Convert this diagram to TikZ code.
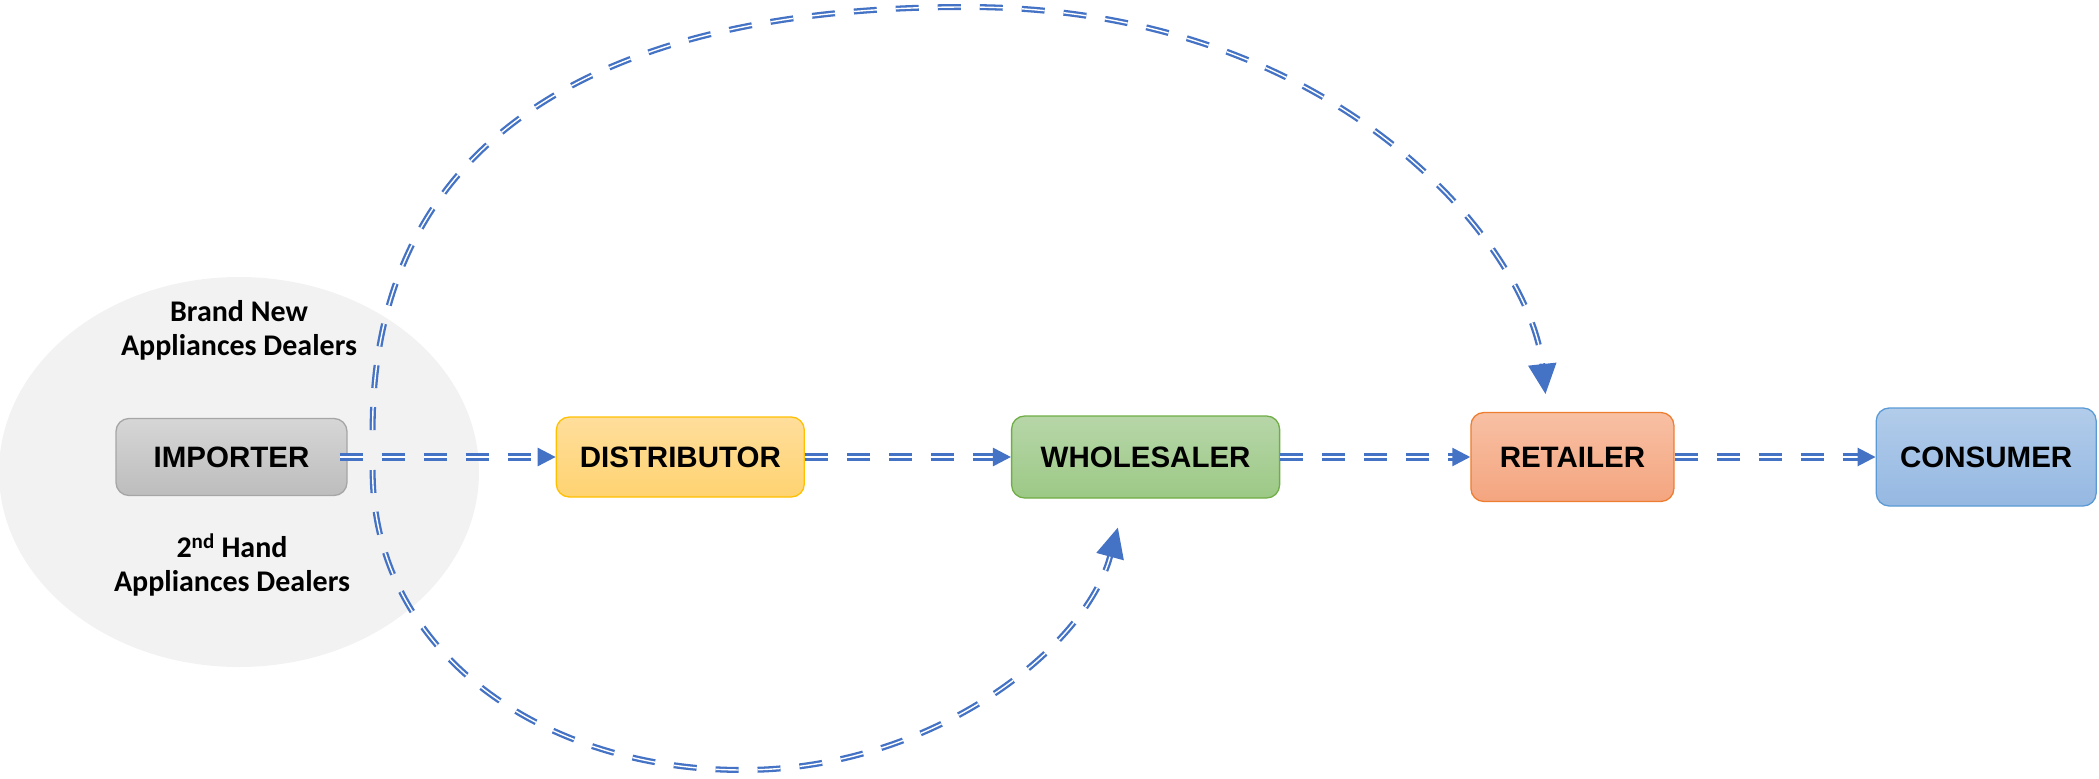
\documentclass[tikz,border=0pt]{standalone}
\usepackage{fontspec}
\newfontfamily\flowfont{Liberation Sans}
\newfontfamily\dealerfont{Carlito}
\usetikzlibrary{arrows.meta,positioning,shapes.geometric}

\definecolor{linkblue}{HTML}{4472C4}
\definecolor{areagray}{HTML}{F2F2F2}

\begin{document}
\begin{tikzpicture}[
x=1pt, y=1pt,
flownode/.style={rectangle, rounded corners=13pt, draw, line width=1.3pt, inner sep=0pt,
  font=\flowfont\bfseries\fontsize{29.5}{34}\selectfont},
dealertext/.style={align=center, font=\dealerfont\bfseries\fontsize{30}{34}\selectfont},
flowline/.style={draw=linkblue, double=white, line width=2.7pt, double distance=2pt,
  dash pattern=on 23pt off 19pt, -{Triangle[length=18pt,width=18pt]}},
loopline/.style={draw=linkblue, double=white, line width=2.3pt, double distance=1.4pt,
  dash pattern=on 23pt off 19pt, -{Triangle[length=30pt,width=28pt]}},
node distance=208pt]
\useasboundingbox (0,0) rectangle (2099,-779);
% Nodes
\node[ellipse, fill=areagray, minimum width=480pt, minimum height=390pt] (area) at (239,-472) {};
\node[dealertext] (brandnew) at (239,-330) {Brand New\\Appliances Dealers};
\node[dealertext] (secondhand) at (232,-565) {2\textsuperscript{nd} Hand\\Appliances Dealers};
\node[flownode, draw=black!35, top color=black!16, bottom color=black!26,
  minimum width=231pt, minimum height=77pt] (imp) at (231.5,-457) {IMPORTER};
\node[flownode, draw={rgb,255:red,255;green,192;blue,0}, top color={rgb,255:red,255;green,222;blue,156},
  bottom color={rgb,255:red,255;green,211;blue,113},
  minimum width=248pt, minimum height=80pt] (dist) [right=of imp] {DISTRIBUTOR};
\node[flownode, draw={rgb,255:red,112;green,173;blue,71}, top color={rgb,255:red,183;green,214;blue,168},
  bottom color={rgb,255:red,156;green,201;blue,134},
  minimum width=268pt, minimum height=82pt] (whole) [right=206pt of dist] {WHOLESALER};
\node[flownode, draw={rgb,255:red,237;green,125;blue,49}, top color={rgb,255:red,248;green,192;blue,164},
  bottom color={rgb,255:red,244;green,165;blue,127},
  minimum width=203pt, minimum height=89pt] (ret) [right=190pt of whole] {RETAILER};
\node[flownode, draw={rgb,255:red,91;green,155;blue,213}, top color={rgb,255:red,178;green,204;blue,234},
  bottom color={rgb,255:red,149;green,184;blue,226},
  minimum width=220pt, minimum height=98pt] (cons) [right=201pt of ret] {CONSUMER};
\coordinate (up) at ([xshift=25pt,yshift=27pt]imp.east);
\coordinate (down) at ([xshift=25pt,yshift=-13pt]imp.east);
% Lines
\draw[flowline] ([xshift=-8pt]imp.east) -- (dist);
\draw[flowline] (dist) -- (whole);
\draw[flowline] (whole) -- (ret);
\draw[flowline] (ret) -- (cons);
\draw[loopline, shorten >=18pt] (up) .. controls (372,-155) and (578,-7) .. (966,-7)
  .. controls (1342,-7) and (1530,-250) .. ([xshift=-25pt]ret.north);
\draw[loopline, shorten >=30pt] (down) .. controls (372,-650) and (540,-770) .. (743,-770)
  .. controls (930,-770) and (1085,-650) .. ([xshift=-20pt]whole.south);
\end{tikzpicture}
\end{document}
